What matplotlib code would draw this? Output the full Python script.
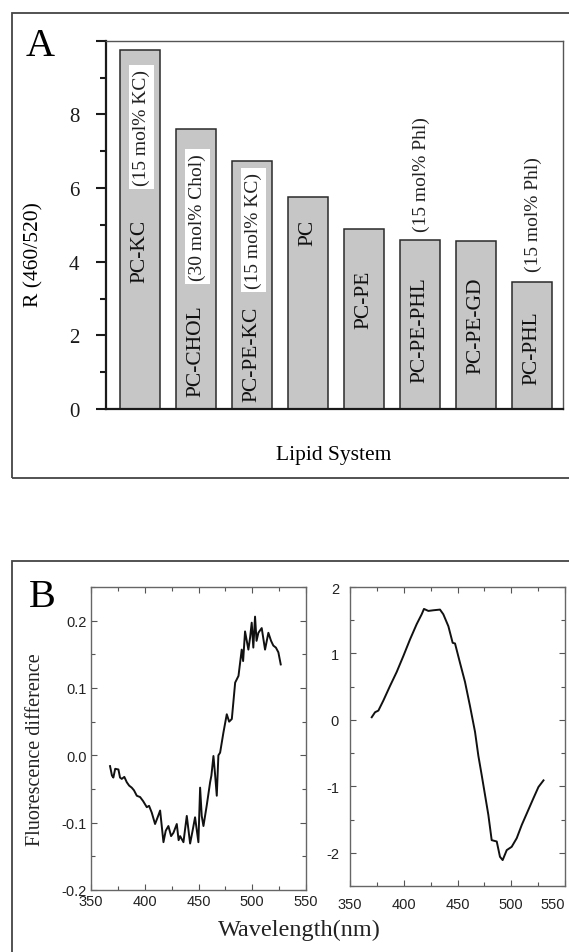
import numpy as np
import matplotlib.pyplot as plt
from matplotlib.patches import Rectangle
from matplotlib.ticker import MultipleLocator

plt.rcParams['axes.unicode_minus'] = False

W, H = 569, 953

# panel A data
lipids = ['PC-KC', 'PC-CHOL', 'PC-PE-KC', 'PC', 'PC-PE', 'PC-PE-PHL', 'PC-PE-GD', 'PC-PHL']
ratio = [9.76, 7.61, 6.73, 5.75, 4.89, 4.60, 4.57, 3.46]
notes = ['(15 mol% KC)', '(30 mol% Chol)', '(15 mol% KC)', '', '', '(15 mol% Phl)', '', '(15 mol% Phl)']

# panel B data (difference spectra)
wl_left = [367.7, 369.5, 370.8, 372.5, 375.5, 377.0, 378.6, 381.0, 383.3, 385.5, 387.9, 390.0,
           392.6, 395.7, 398.5, 401.9, 404.0, 406.5, 409.6, 412.0, 414.3, 417.4, 419.5, 422.0,
           424.5, 426.7, 429.8, 431.5, 432.9, 436.0, 437.5, 439.1, 442.2, 444.5, 446.8, 449.9,
           451.5, 453.0, 454.6, 457.7, 460.8, 462.0, 463.9, 465.5, 467.0, 468.5, 470.1, 473.2,
           476.3, 478.5, 481.0, 484.1, 487.2, 490.2, 491.5, 493.3, 496.4, 498.0, 499.5, 501.0,
           502.6, 504.0, 505.7, 508.8, 511.9, 515.0, 517.5, 519.6, 522.0, 524.3, 526.5]
diff_left = [-0.016, -0.030, -0.033, -0.020, -0.021, -0.033, -0.035, -0.032, -0.040, -0.045,
             -0.048, -0.052, -0.060, -0.062, -0.068, -0.077, -0.075, -0.085, -0.102, -0.092,
             -0.082, -0.129, -0.112, -0.105, -0.120, -0.115, -0.102, -0.126, -0.120, -0.129,
             -0.110, -0.090, -0.131, -0.112, -0.092, -0.129, -0.048, -0.090, -0.105, -0.074,
             -0.040, -0.030, -0.001, -0.030, -0.060, 0.000, 0.004, 0.034, 0.061, 0.050,
             0.054, 0.108, 0.118, 0.157, 0.140, 0.184, 0.157, 0.175, 0.197, 0.160,
             0.206, 0.170, 0.182, 0.189, 0.157, 0.182, 0.170, 0.163, 0.160, 0.153, 0.135]

wl_right = [370.2, 373.3, 376.4, 381.0, 387.2, 393.4, 399.6, 405.8, 412.0, 416.7, 418.8, 422.9,
            427.7, 433.7, 436.8, 441.5, 445.5, 447.7, 452.3, 457.0, 461.6, 466.3, 469.4, 472.5,
            475.6, 478.7, 481.8, 486.5, 489.5, 492.0, 495.8, 500.4, 505.1, 509.8, 514.4, 520.6,
            525.3, 530.0]
diff_right = [0.04, 0.115, 0.14, 0.29, 0.51, 0.72, 0.96, 1.21, 1.44, 1.59, 1.67, 1.64,
              1.65, 1.66, 1.59, 1.41, 1.16, 1.15, 0.86, 0.57, 0.21, -0.18, -0.54, -0.83,
              -1.13, -1.43, -1.81, -1.83, -2.06, -2.11, -1.96, -1.91, -1.78, -1.58, -1.41, -1.18,
              -1.01, -0.91]

# layout of the in-bar labels (data units of the bar axis)
name_y = [4.3, 1.6, 1.5, 4.8, 3.0, 2.17, 2.3, 1.67]
note_y = [7.65, 5.23, 4.85, 0, 0, 6.4, 0, 5.3]

serif = 'Liberation Serif'
sans = 'Liberation Sans'


def fig_rect(x0, y0, x1, y1):
    # pixel box -> figure fraction rect
    return [x0 / W, 1 - y1 / H, (x1 - x0) / W, (y1 - y0) / H]


fig = plt.figure(figsize=(W / 100, H / 100), dpi=100)
fig.patch.set_facecolor('white')

# outer frames
fig.add_artist(Rectangle((12 / W, 1 - 479 / H), 0.99, (479 - 14) / H, transform=fig.transFigure,
                         fill=False, ec='#444444', lw=1.3))
fig.add_artist(Rectangle((12 / W, -0.05), 0.99, 0.05 + (H - 562) / H, transform=fig.transFigure,
                         fill=False, ec='#444444', lw=1.3))

# ---- panel A ----
ax = fig.add_axes(fig_rect(106, 41.7, 563, 410))
x = np.arange(len(lipids))
ax.bar(x, ratio, width=0.71, color='#c6c6c6', edgecolor='#2a2a2a', linewidth=1.1, zorder=2)
ax.set_xlim(-0.6, 7.55)
ax.set_ylim(0, 10)
ax.set_xticks([])
ax.set_yticks([0, 2, 4, 6, 8, 10])
ax.set_yticklabels(['0', '2', '4', '6', '8', ''])
ax.yaxis.set_minor_locator(MultipleLocator(1))
ax.tick_params(axis='y', which='major', direction='out', length=7, width=1.5, pad=12,
               labelsize=15, colors='#1a1a1a')
ax.tick_params(axis='y', which='minor', direction='out', length=4.5, width=1.5, colors='#1a1a1a')
for lab in ax.get_yticklabels():
    lab.set_family(serif)
ax.spines['left'].set_linewidth(1.6)
ax.spines['bottom'].set_linewidth(1.6)
ax.spines['left'].set_color('#1a1a1a')
ax.spines['bottom'].set_color('#1a1a1a')
ax.spines['top'].set_color('#555555')
ax.spines['right'].set_color('#555555')
ax.spines['top'].set_linewidth(1.0)
ax.spines['right'].set_linewidth(1.0)

for i, name in enumerate(lipids):
    ax.text(x[i], name_y[i], name, rotation=90, ha='center', va='center',
            family=serif, fontsize=15.5, color='#111111', zorder=4)
    if notes[i]:
        inside = note_y[i] < ratio[i]
        box = dict(facecolor='white', edgecolor='none', pad=3) if inside else None
        ax.text(x[i] + 0.03, note_y[i], notes[i], rotation=90, ha='center', va='center',
                family=serif, fontsize=14, color='#222222', bbox=box, zorder=3)

fig.text(40 / W, 1 - 46 / H, 'A', family=serif, fontsize=29, ha='center', va='center')
fig.text(34 / W, 1 - 255 / H, 'R (460/520)', family=serif, fontsize=15.5, rotation=90,
         ha='center', va='center')
fig.text(334 / W, 1 - 456 / H, 'Lipid System', family=serif, fontsize=15.5,
         ha='center', va='center')

# ---- panel B ----
def style_spec(a, ymajor, yminor, pad):
    a.set_xlim(350, 550)
    a.xaxis.set_major_locator(MultipleLocator(50))
    a.xaxis.set_minor_locator(MultipleLocator(25))
    a.yaxis.set_major_locator(MultipleLocator(ymajor))
    a.yaxis.set_minor_locator(MultipleLocator(yminor))
    a.tick_params(which='both', direction='in', top=True, right=True, colors='#555555',
                  width=0.8)
    a.tick_params(which='major', length=4, pad=pad, labelsize=10.5, labelcolor='#222222')
    a.tick_params(which='minor', length=3)
    for s in a.spines.values():
        s.set_color('#666666')
        s.set_linewidth(1.0)


axl = fig.add_axes(fig_rect(91, 588, 306, 891))
axl.plot(wl_left, diff_left, color='#111111', lw=1.4)
axl.set_ylim(-0.2, 0.25)
style_spec(axl, 0.1, 0.05, 3)
axl.set_yticks([-0.2, -0.1, 0.0, 0.1, 0.2])
axl.set_yticklabels(['-0.2', '-0.1', '0.0', '0.1', '0.2'])

axr = fig.add_axes(fig_rect(350, 588, 565, 887))
axr.plot(wl_right, diff_right, color='#111111', lw=1.4)
axr.set_ylim(-2.5, 2)
style_spec(axr, 1, 0.5, 8)
axr.set_yticks([-2, -1, 0, 1, 2])
axr.set_xticks([350, 400, 450, 500, 550])
axr.set_xticklabels(['350', '400', '450', '500', '550'])
axr.get_xticklabels()[-1].set_horizontalalignment('right')

for a in (axl, axr):
    for lab in a.get_xticklabels() + a.get_yticklabels():
        lab.set_family(sans)

fig.text(42 / W, 1 - 598 / H, 'B', family=serif, fontsize=29, ha='center', va='center')
fig.text(36 / W, 1 - 750 / H, 'Fluorescence difference', family=serif, fontsize=14.5,
         rotation=90, ha='center', va='center', color='#222222')
fig.text(299 / W, 1 - 930 / H, 'Wavelength(nm)', family=serif, fontsize=17.5,
         ha='center', va='center', color='#222222')

fig.savefig('out.png', dpi=100)
